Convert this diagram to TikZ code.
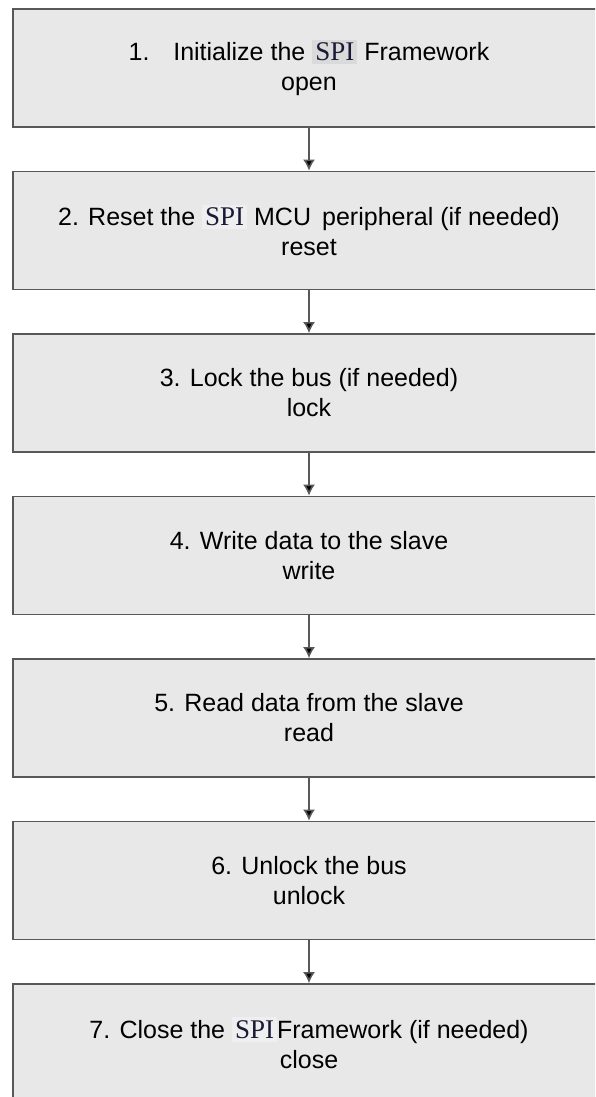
\documentclass[tikz,border=0pt]{standalone}
\usepackage{fontspec}
\setmainfont{Liberation Sans}
\newfontfamily\spifont{Liberation Serif}
\usepackage{tikz}
\usetikzlibrary{arrows.meta,positioning}

\definecolor{boxfill}{HTML}{E8E8E8}
\definecolor{boxline}{HTML}{585858}
\definecolor{spidark}{HTML}{DADADA}
\definecolor{spilight}{HTML}{EFEFEF}
\definecolor{spitext}{HTML}{1A1A38}

% SPI in a serif, on a small highlight
\newcommand{\spi}[1][spidark]{{\setlength{\fboxsep}{3pt}\colorbox{#1}{\spifont\fontsize{27}{30}\selectfont\color{spitext}SPI}}}

\begin{document}
\begin{tikzpicture}[->,
            >={Latex[length=11pt,width=12pt]},
            x=1pt, y=1pt,
            node distance=162.5pt,
            stepbox/.style={draw=boxline, fill=boxfill, line width=1.8pt,
                minimum width=592pt, minimum height=118pt, align=center,
                font=\fontsize{25}{30}\selectfont},
            semithick]

        \clip (0,0) rectangle (595,-1097);

        \node[stepbox] (1) at (309,-68)  {1.\hspace{0.95em}Initialize the \spi{} Framework\\open};
        \node[stepbox] (2) [below of=1]  {2. Reset the \spi[spilight]{} MCU\, peripheral (if needed)\\reset};
        \node[stepbox] (3) [below of=2]  {3. Lock the bus (if needed)\\lock};
        \node[stepbox] (4) [below of=3]  {4. Write data to the slave\\write};
        \node[stepbox] (5) [below of=4]  {5. Read data from the slave\\read};
        \node[stepbox] (6) [below of=5]  {6. Unlock the bus\\unlock};
        \node[stepbox] (7) [below of=6]  {7. Close the \spi[spilight]{}Framework (if needed)\\close};

        \path[draw=boxline, line width=1.6pt]
              (1) edge (2)
              (2) edge (3)
              (3) edge (4)
              (4) edge (5)
              (5) edge (6)
              (6) edge (7);

    \end{tikzpicture}
\end{document}
